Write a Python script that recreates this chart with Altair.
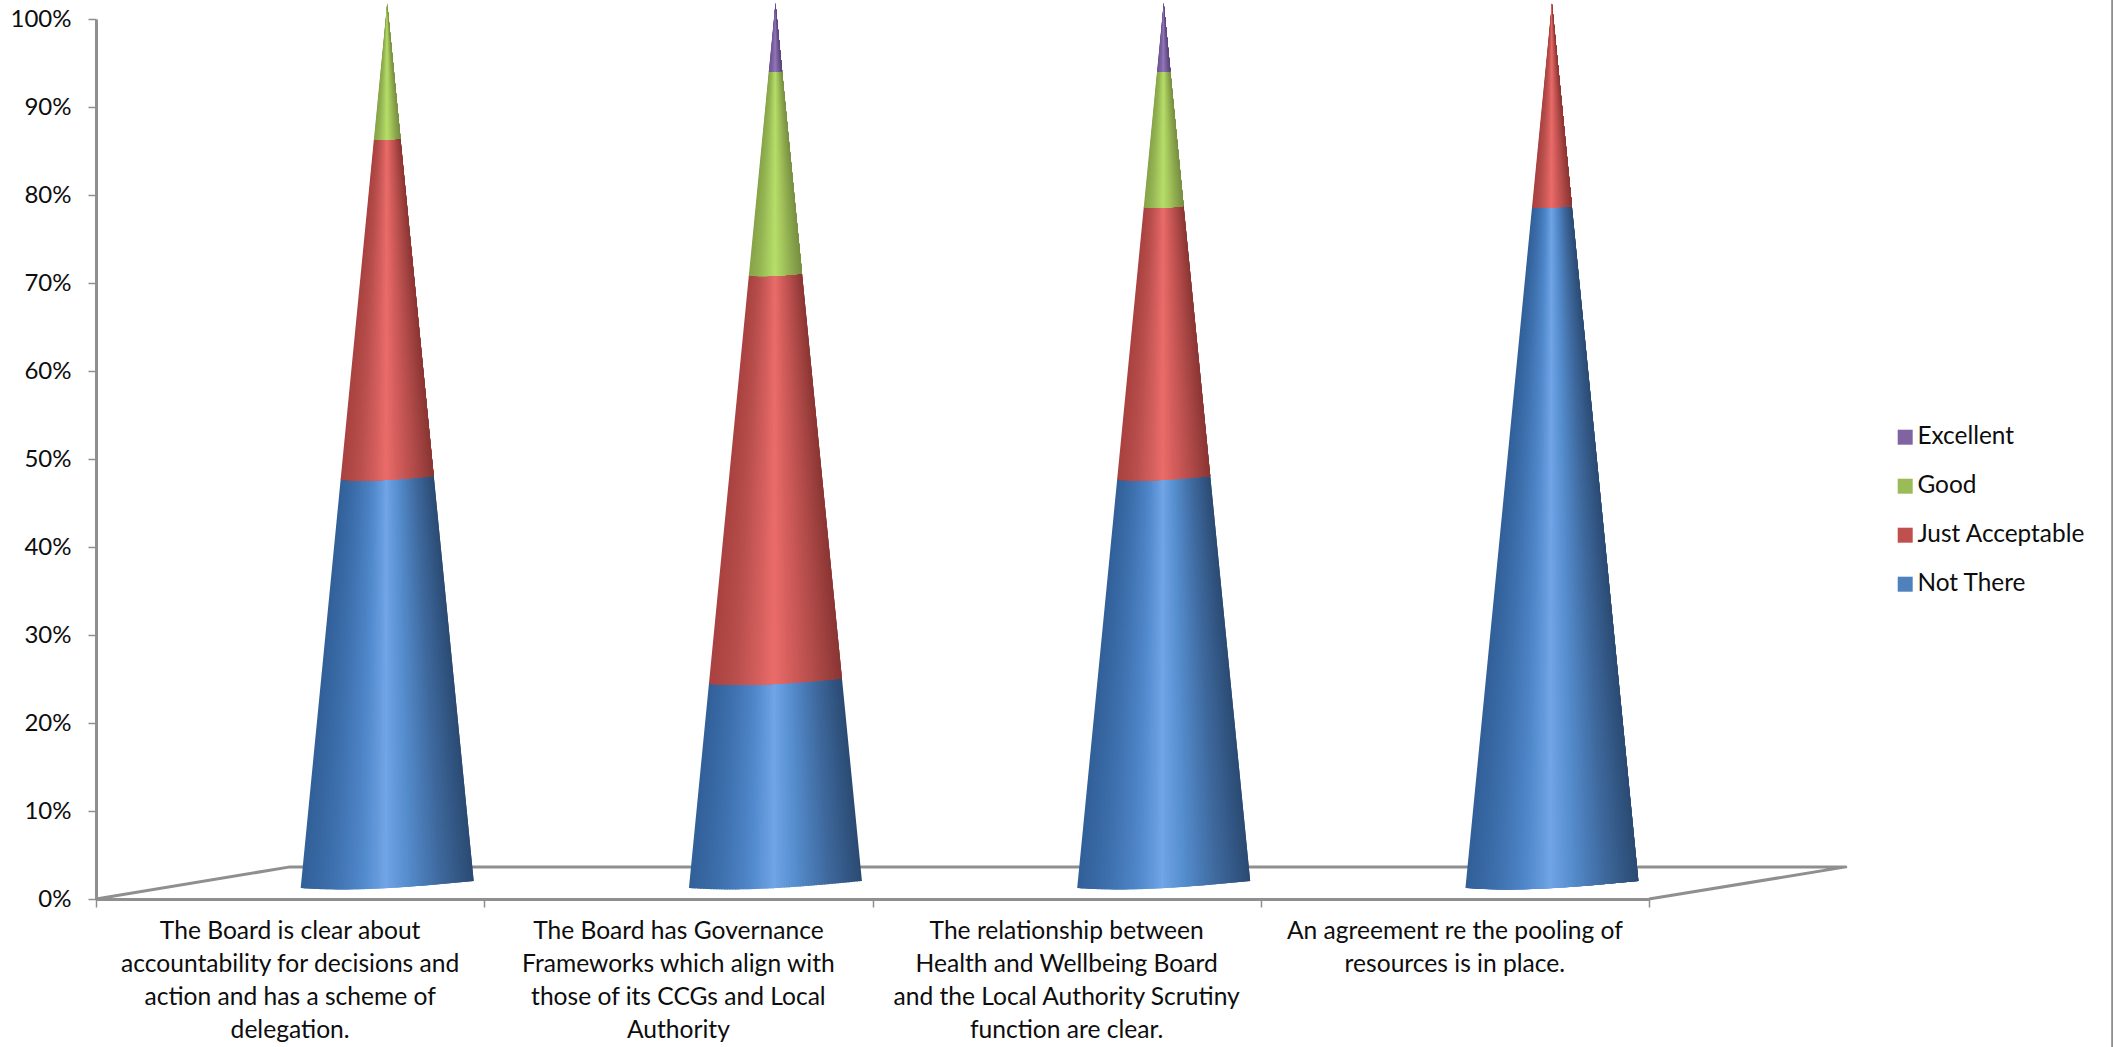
import altair as alt
import numpy as np
import pandas as pd

# Survey responses per statement, 13 boards in total.
RESPONSES = 13
series_names = ["Not There", "Just Acceptable", "Good", "Excellent"]
legend_order = ["Excellent", "Good", "Just Acceptable", "Not There"]
legend_colors = ["#8064A2", "#9BBB59", "#C0504D", "#4F81BD"]
not_there = [6, 3, 6, 10]
just_acceptable = [5, 6, 4, 3]
good = [2, 3, 2, 0]
excellent = [0, 1, 1, 0]
statements = [
    "The Board is clear about\naccountability for decisions and\naction and has a scheme of\ndelegation.",
    "The Board has Governance\nFrameworks which align with\nthose of its CCGs and Local\nAuthority",
    "The relationship between\nHealth and Wellbeing Board\nand the Local Authority Scrutiny\nfunction are clear.",
    "An agreement re the pooling of\nresources is in place.",
]
y_ticks = [0, 10, 20, 30, 40, 50, 60, 70, 80, 90, 100]
x_ticks = [0, 1, 2, 3, 4]

# Colour across a cone, left edge to right edge.
shade_stops = [0.0, 0.2, 0.36, 0.49, 0.62, 0.8, 1.0]
shades = {
    "Not There": ["#315f98", "#3f72b0", "#5189cc", "#70a5e6", "#558dcd", "#3f6a9f", "#2a4a72"],
    "Just Acceptable": ["#a8413f", "#b84f4d", "#d25e5c", "#ea6c6a", "#d25d5b", "#b04b49", "#8a3533"],
    "Good": ["#86a348", "#95b553", "#a8cc60", "#b6de6a", "#a8ca5e", "#90ac50", "#778f42"],
    "Excellent": ["#6b5390", "#7a60a0", "#866bad", "#9478bb", "#8368a9", "#6f5792", "#5a4678"],
}

AXIS_GREY = "#8f8f8f"
TEXT = "#0d0d0d"
FONT = "Lato"

# Cone geometry in axis units: the cones stand towards the back of the floor.
CENTRE_SHIFT = 0.75
HALF_WIDTH = 0.2228
Y_LIFT = 1.648
Y_SPAN = 100.1
TILT = 0.40
SLICES = 64
# Each strip runs under its right-hand neighbour, by this share of the base width.
OVERLAP = 0.018


def hex_rgb(h):
    return np.array([int(h[i : i + 2], 16) for i in (1, 3, 5)], dtype=float)


def shade_at(name, t):
    rgb = [np.interp(t, shade_stops, [hex_rgb(c)[j] for c in shades[name]]) for j in range(3)]
    return "#%02x%02x%02x" % tuple(int(round(v)) for v in rgb)


def ring_y(f, u):
    # Segment boundaries are shallow tilted arcs that shrink towards the tip.
    r = 1 - f
    return Y_LIFT + Y_SPAN * f + r * (TILT * u - (1 - u * u) * (0.41 - 0.14 * u))


def ring_x(centre, f, u):
    return centre + HALF_WIDTH * (1 - f) * u


def slice_rows(centre, f0, f1, t0, t1):
    u0, u1 = 2 * t0 - 1, 2 * t1 - 1
    bl = (ring_x(centre, f0, u0), ring_y(f0, u0))
    br = (ring_x(centre, f0, u1), ring_y(f0, u1))
    tl = (ring_x(centre, f1, u0), ring_y(f1, u0))
    tr = (ring_x(centre, f1, u1), ring_y(f1, u1))
    left = [bl, tl]
    right = [br, tr]
    if br[1] < bl[1]:
        left.insert(0, br)
    else:
        right.insert(0, bl)
    if tr[1] > tl[1]:
        left.append(tr)
    else:
        right.append(tl)
    ys = sorted({p[1] for p in left + right})
    ly, lx = [p[1] for p in left], [p[0] for p in left]
    ry, rx = [p[1] for p in right], [p[0] for p in right]
    return [(np.interp(y, ly, lx), np.interp(y, ry, rx), y) for y in ys]


counts = {
    "Not There": not_there,
    "Just Acceptable": just_acceptable,
    "Good": good,
    "Excellent": excellent,
}

shade_rows, base_rows = [], []
for c in range(len(statements)):
    centre = c + CENTRE_SHIFT
    total = 0
    for name in series_names:
        n = counts[name][c]
        if n == 0:
            continue
        f0 = total / RESPONSES
        total += n
        f1 = total / RESPONSES
        top = f1 if total == RESPONSES else f1 + 0.001
        # Solid core of the segment, carrying the series colour; kept inside the strips.
        for f, inset in ((f0, 0.35 * (1 - f0)), (f1, -0.6 * (1 - f1))):
            base_rows.append(
                {
                    "seg": f"{c}-{name}",
                    "series": name,
                    "x": ring_x(centre, f, -0.4),
                    "x2": ring_x(centre, f, 0.4),
                    "y": Y_LIFT + Y_SPAN * f + inset,
                }
            )
        # Thin lengthwise strips give the rounded shading.
        reach = max(1.3 / SLICES, OVERLAP / max(1 - f1, 0.02))
        for k in range(SLICES):
            t0 = k / SLICES
            t1 = min(1.0, t0 + reach)
            colour = shade_at(name, (k + 0.5) / SLICES)
            for xa, xb, y in slice_rows(centre, f0, top, t0, t1):
                shade_rows.append(
                    {
                        "strip": f"{c}-{name}-{k:02d}",
                        "shade": colour,
                        "x": round(float(xa), 5),
                        "x2": round(float(xb), 5),
                        "y": round(float(y), 4),
                    }
                )

shade_df = pd.DataFrame(shade_rows)
base_df = pd.DataFrame(base_rows)
floor_df = pd.DataFrame(
    {"x": [0, 0.5, 4.507, 4], "y": [0, 3.65, 3.65, 0], "i": [0, 1, 2, 3]}
)
label_df = pd.DataFrame({"x": [0.5, 1.5, 2.5, 3.5], "text": statements})

x_scale = alt.Scale(domain=[0, 4], nice=False, zero=False)
y_scale = alt.Scale(domain=[0, 100], nice=False)

floor = (
    alt.Chart(floor_df)
    .mark_line(color=AXIS_GREY, strokeWidth=3, strokeJoin="round")
    .encode(
        x=alt.X(
            "x:Q",
            scale=x_scale,
            axis=alt.Axis(
                values=x_ticks,
                labels=False,
                title=None,
                grid=False,
                tickSize=8,
                tickWidth=1.5,
                tickColor=AXIS_GREY,
                domainColor=AXIS_GREY,
                domainWidth=3,
            ),
        ),
        y=alt.Y(
            "y:Q",
            scale=y_scale,
            axis=alt.Axis(
                values=y_ticks,
                labelExpr="datum.value + '%'",
                title=None,
                grid=False,
                tickSize=8,
                tickWidth=1.5,
                tickColor=AXIS_GREY,
                domainColor=AXIS_GREY,
                domainWidth=3,
                labelFont=FONT,
                labelFontSize=24,
                labelColor=TEXT,
                labelPadding=17,
            ),
        ),
        order="i:Q",
    )
)

core = (
    alt.Chart(base_df)
    .mark_area(orient="horizontal")
    .encode(
        x=alt.X("x:Q", scale=x_scale, stack=None),
        x2="x2:Q",
        y=alt.Y("y:Q", scale=y_scale),
        detail="seg:N",
        color=alt.Color(
            "series:N",
            scale=alt.Scale(domain=legend_order, range=legend_colors),
            sort=legend_order,
            legend=alt.Legend(
                title=None,
                orient="none",
                legendX=1797,
                legendY=406,
                symbolType="square",
                symbolSize=225,
                symbolStrokeWidth=0,
                labelFont=FONT,
                labelFontSize=24.4,
                labelColor=TEXT,
                labelOffset=0,
                labelLimit=320,
                rowPadding=24,
            ),
        ),
    )
)

strips = (
    alt.Chart(shade_df)
    .mark_area(orient="horizontal")
    .encode(
        x=alt.X("x:Q", scale=x_scale, stack=None),
        x2="x2:Q",
        y=alt.Y("y:Q", scale=y_scale),
        detail="strip:N",
        fill=alt.Fill("shade:N", scale=None),
    )
)

labels = (
    alt.Chart(label_df)
    .mark_text(
        font=FONT,
        fontSize=24.6,
        color=TEXT,
        lineBreak="\n",
        lineHeight=33,
        baseline="top",
        align="center",
    )
    .encode(
        x=alt.X("x:Q", scale=x_scale),
        y=alt.value(901),
        text="text:N",
    )
)

edge = (
    alt.Chart(pd.DataFrame({"x": [5.193]}))
    .mark_rule(color=AXIS_GREY, strokeWidth=2)
    .encode(x=alt.X("x:Q", scale=x_scale), y=alt.value(-19), y2=alt.value(1028))
)

chart = (
    alt.layer(floor, core, strips, labels, edge)
    .properties(
        width=1553,
        height=880,
        autosize="none",
        padding={"left": 96, "top": 19, "right": 464, "bottom": 148},
        background="white",
    )
    .configure_view(strokeWidth=0)
)

chart.save("out.html", embed_options={"renderer": "svg", "actions": False})
